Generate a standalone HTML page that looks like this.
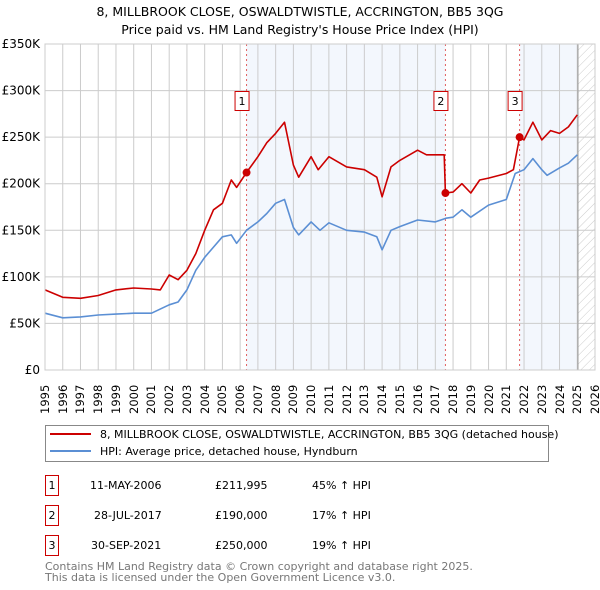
<!DOCTYPE html>
<html><head><meta charset="utf-8"><style>
body{margin:0;background:#fff;font-family:"DejaVu Sans","Liberation Sans",sans-serif;}
svg text{font-family:"DejaVu Sans","Liberation Sans",sans-serif;}
.xl{position:absolute;top:383px;width:31px;height:14px;font-size:11.5px;line-height:14px;text-align:left;transform-origin:0 0;transform:rotate(-90deg) translate(-31px,0);font-family:"DejaVu Sans","Liberation Sans",sans-serif;white-space:nowrap;}
#xlabels{position:absolute;left:0;top:0;}
</style></head><body>
<div style="position:relative;width:600px;height:590px;">
<svg id="chart" width="600" height="590" xmlns="http://www.w3.org/2000/svg" style="position:absolute;left:0;top:0">
<defs><pattern id="hatch" width="6" height="6" patternUnits="userSpaceOnUse" patternTransform="rotate(45)"><line x1="0" y1="0" x2="0" y2="6" stroke="#ccc" stroke-width="1"/></pattern></defs>
<text x="300" y="16" text-anchor="middle" font-size="12.5">8, MILLBROOK CLOSE, OSWALDTWISTLE, ACCRINGTON, BB5 3QG</text>
<text x="300" y="34" text-anchor="middle" font-size="12.5">Price paid vs. HM Land Registry's House Price Index (HPI)</text>
<g id="plot"></g>
<g>
<rect x="45.5" y="425.5" width="503" height="36" fill="#fff" stroke="#888"/>
<line x1="50" y1="434" x2="91" y2="434" stroke="#cc0000" stroke-width="2"/>
<text x="100" y="438" font-size="11">8, MILLBROOK CLOSE, OSWALDTWISTLE, ACCRINGTON, BB5 3QG (detached house)</text>
<line x1="50" y1="451" x2="91" y2="451" stroke="#5b8fd4" stroke-width="2"/>
<text x="100" y="455" font-size="11">HPI: Average price, detached house, Hyndburn</text>
</g>
<g font-size="11">
<rect x="45.5" y="475.5" width="13" height="20" fill="#fff" stroke="#cc0000"/><text x="52" y="489" text-anchor="middle">1</text>
<text x="90" y="489">11-MAY-2006</text><text x="215" y="489">£211,995</text><text x="312" y="489">45% ↑ HPI</text>
<rect x="45.5" y="505.5" width="13" height="20" fill="#fff" stroke="#cc0000"/><text x="52" y="519" text-anchor="middle">2</text>
<text x="94" y="519">28-JUL-2017</text><text x="215" y="519">£190,000</text><text x="312" y="519">17% ↑ HPI</text>
<rect x="45.5" y="535.5" width="13" height="20" fill="#fff" stroke="#cc0000"/><text x="52" y="549" text-anchor="middle">3</text>
<text x="91" y="549">30-SEP-2021</text><text x="215" y="549">£250,000</text><text x="312" y="549">19% ↑ HPI</text>
</g>
<text x="45" y="570" font-size="11" fill="#777">Contains HM Land Registry data © Crown copyright and database right 2025.</text>
<text x="45" y="581" font-size="11" fill="#777">This data is licensed under the Open Government Licence v3.0.</text>
</svg>
<div id="xlabels"></div>
</div>
<script>
const hpiYears=[1995,1996,1997,1998,1999,2000,2001,2002,2002.5,2003,2003.5,2004,2004.5,2005,2005.5,2005.8,2006.36,2007,2007.5,2008,2008.5,2009,2009.3,2010,2010.5,2011,2012,2013,2013.7,2014,2014.5,2015,2016,2017,2017.6,2018,2018.5,2019,2020,2021,2021.5,2022,2022.5,2023,2023.3,2024,2024.5,2025];
const hpiValues=[61,56,57,59,60,61,61,70,73,86,107,121,132,143,145,136,150,159,168,179,183,153,145,159,150,158,150,148,143,129,150,154,161,159,163,164,172,164,177,183,211,215,227,215,209,217,222,231];
const priceYears=[1995,1996,1997,1998,1999,2000,2001,2001.5,2002,2002.5,2003,2003.5,2004,2004.5,2005,2005.5,2005.8,2006.36,2007,2007.5,2008,2008.5,2009,2009.3,2010,2010.4,2011,2012,2013,2013.7,2014,2014.5,2015,2016,2016.5,2017.5,2017.57,2018,2018.5,2019,2019.5,2020,2021,2021.4,2021.75,2022,2022.5,2023,2023.5,2024,2024.5,2025];
const priceValues=[86,78,77,80,86,88,87,86,102,97,107,125,150,172,179,204,196,212,229,244,254,266,220,207,229,215,229,218,215,207,186,218,225,236,231,231,190,191,200,190,204,206,211,215,250,247,266,247,257,254,261,274];
const saleYears=[2006.36,2017.57,2021.75];
const saleValues=[211.995,190,250];
const saleLabels=["1","2","3"];
const yTicks=[0,50,100,150,200,250,300,350];
const yTickLabels=["£0","£50K","£100K","£150K","£200K","£250K","£300K","£350K"];
const xTicks=[];for(let y=1995;y<=2026;y++)xTicks.push(y);

const L=45,R=595,T=44,B=370,X0=1995,X1=2026,YMAX=350;
const sx=v=>L+(v-X0)/(X1-X0)*(R-L);
const sy=v=>B-v/YMAX*(B-T);
const NS="http://www.w3.org/2000/svg";
const g=document.getElementById('plot');
const xl=document.getElementById('xlabels');
function mk(tag,attrs,parent){const e=document.createElementNS(NS,tag);for(const k in attrs)e.setAttribute(k,attrs[k]);(parent||g).appendChild(e);return e;}
let e;
e=mk('rect',{x:sx(saleYears[0]),y:T,width:sx(saleYears[1])-sx(saleYears[0]),height:B-T,fill:'#eef3fc',opacity:0.7});


e=mk('rect',{x:sx(saleYears[2]),y:T,width:sx(2025.04)-sx(saleYears[2]),height:B-T,fill:'#eef3fc',opacity:0.7});


e=mk('rect',{x:sx(2025.04),y:T,width:R-sx(2025.04),height:B-T,fill:'url(#hatch)'});


xTicks.forEach(t=>{
 e=mk('line',{x1:sx(t),x2:sx(t),y1:T,y2:B,stroke:'#ccc','stroke-width':1});
 
 
 const d=document.createElement('div');
 d.className='xl';
 d.style.left=(sx(t)-7)+'px';
 d.textContent=t;
 
 
 xl.appendChild(d);
});
yTicks.forEach((t,i)=>{
 e=mk('line',{x1:L,x2:R,y1:sy(t),y2:sy(t),stroke:'#ccc','stroke-width':1});
 
 
 e=mk('text',{x:L-5,y:sy(t)+4,'font-size':12,'text-anchor':'end'});
 e.textContent=yTickLabels[i];
 
 
});
e=mk('line',{x1:sx(2025.04),x2:sx(2025.04),y1:T,y2:B,stroke:'#999','stroke-width':1});


saleYears.forEach((s,i)=>{
 e=mk('line',{x1:sx(s),x2:sx(s),y1:T,y2:B,stroke:'#e06060','stroke-width':1,'stroke-dasharray':'2,3'});
 
 
});
function line(xs,vs,col,name){
 const d=xs.map((x,i)=>(i?'L':'M')+sx(x).toFixed(1)+','+sy(vs[i]).toFixed(1)).join('');
 const p=mk('path',{d:d,fill:'none',stroke:col,'stroke-width':1.6,'stroke-linejoin':'round'});
 
 
}
line(hpiYears,hpiValues,'#5b8fd4','hpi-line');
line(priceYears,priceValues,'#cc0000','price-line');
saleYears.forEach((s,i)=>{
 e=mk('circle',{cx:sx(s),cy:sy(saleValues[i]),r:4,fill:'#cc0000'});
 
 
 const bx=sx(s)-7-4;
 e=mk('rect',{x:bx-0.5,y:91.5,width:14,height:19,fill:'#fff',stroke:'#cc0000'});
 
 
 e=mk('text',{x:bx+6.5,y:105,'font-size':11,'text-anchor':'middle'});
 e.textContent=saleLabels[i];
 
 
});
e=mk('rect',{x:L,y:T,width:R-L,height:B-T,fill:'none',stroke:'#ccc'});


</script>
</body></html>
